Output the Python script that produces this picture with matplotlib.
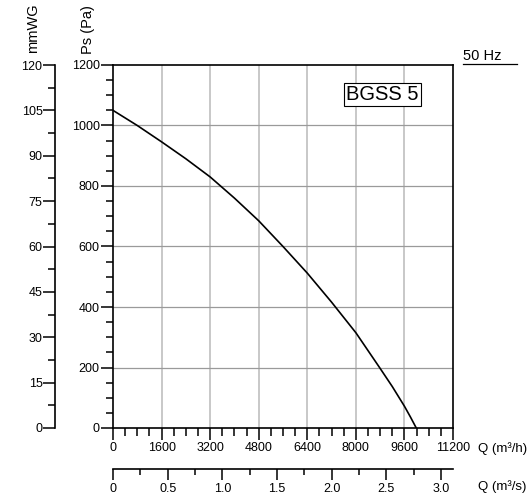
import matplotlib
matplotlib.use("Agg")
import matplotlib.pyplot as plt
from matplotlib.ticker import MultipleLocator, FixedLocator, FuncFormatter

plt.rcParams['font.family'] = ['Liberation Sans', 'DejaVu Sans']

# fan curve: flow (m3/h) vs static pressure (Pa)
q_m3h = [0, 800, 1600, 2400, 3200, 4000, 4800, 5600, 6400, 7200,
         8000, 8800, 9200, 9600, 9800, 9990]
ps_pa = [1050, 1000, 946, 890, 830, 760, 685, 600, 512, 416,
         315, 197, 137, 72, 36, 0]

model = "BGSS 5"
freq = "50 Hz"
q_max = 11200
ps_max = 1200
mmwg_max = 120

W, H = 532, 500


def fx(x):
    return x / W


def fy(y):
    return 1 - y / H


fig = plt.figure(figsize=(W / 100, H / 100), dpi=100)

left, right, top, bottom = 113, 453, 65, 428
ax = fig.add_axes([fx(left), fy(bottom), (right - left) / W, (bottom - top) / H])
ax.set_xlim(0, q_max)
ax.set_ylim(0, ps_max)

ax.xaxis.set_major_locator(MultipleLocator(1600))
ax.xaxis.set_minor_locator(MultipleLocator(400))
ax.yaxis.set_major_locator(MultipleLocator(200))
ax.yaxis.set_minor_locator(MultipleLocator(50))

for v in range(1600, q_max, 1600):
    ax.axvline(v, color='#c4c4c4', lw=1.3, zorder=1)
for v in range(200, ps_max, 200):
    ax.axhline(v, color='#9a9a9a', lw=0.9, zorder=1)

ax.plot(q_m3h, ps_pa, color='black', lw=1.2, zorder=3)

for s in ax.spines.values():
    s.set_linewidth(1.2)
    s.set_zorder(4)
ax.tick_params(which='major', length=8.5, width=1.1, labelsize=9, pad=1.5, colors='black')
ax.tick_params(which='minor', length=5.5, width=1.1)
ax.tick_params(axis='y', which='major', length=9, pad=0.5)
ax.tick_params(axis='y', which='minor', length=5)

ax.text(0.793, 0.92, model, transform=ax.transAxes, fontsize=14.5, ha='center', va='center',
        bbox=dict(boxstyle='square,pad=0.1', fc='white', ec='black', lw=0.8), zorder=5)

# mmWG axis on the far left
ax2 = fig.add_axes([fx(55), fy(bottom), 0.0001, (bottom - top) / H])
ax2.set_ylim(0, mmwg_max)
ax2.yaxis.set_major_locator(MultipleLocator(15))
ax2.yaxis.set_minor_locator(MultipleLocator(7.5))
for k in ['top', 'right', 'bottom']:
    ax2.spines[k].set_visible(False)
ax2.spines['left'].set_linewidth(1.2)
ax2.set_xticks([])
ax2.patch.set_visible(False)
ax2.tick_params(which='major', length=8.5, width=1.1, labelsize=9, pad=0.5)
ax2.tick_params(which='minor', length=5, width=1.1)

# m3/s axis underneath
ax3 = fig.add_axes([fx(left), fy(469), (right - left) / W, 0.0001])
ax3.set_xlim(0, q_max / 3600)
ax3.xaxis.set_major_locator(FixedLocator([0, 0.5, 1.0, 1.5, 2.0, 2.5, 3.0]))
ax3.xaxis.set_minor_locator(FixedLocator([0.25, 0.75, 1.25, 1.75, 2.25, 2.75]))
ax3.xaxis.set_major_formatter(FuncFormatter(lambda v, p: '0' if v == 0 else '%.1f' % v))
for k in ['top', 'right', 'left']:
    ax3.spines[k].set_visible(False)
ax3.spines['bottom'].set_linewidth(1.2)
ax3.set_yticks([])
ax3.patch.set_visible(False)
ax3.tick_params(which='major', length=8, width=1.1, labelsize=9, pad=2)
ax3.tick_params(which='minor', length=4.5, width=1.1)

fig.text(fx(33), fy(28), 'mmWG', rotation=90, fontsize=10.5, ha='center', va='center')
fig.text(fx(88), fy(30), 'Ps (Pa)', rotation=90, fontsize=10.5, ha='center', va='center')
fig.text(fx(478), fy(449), 'Q (m³/h)', fontsize=9.5, ha='left', va='center')
fig.text(fx(478), fy(487), 'Q (m³/s)', fontsize=9.5, ha='left', va='center')
fig.text(fx(463), fy(56), freq, fontsize=10.5, ha='left', va='center')
fig.add_artist(plt.Line2D([fx(463), fx(517)], [fy(64), fy(64)], color='black', lw=0.9))

fig.savefig('out.png', dpi=100)
